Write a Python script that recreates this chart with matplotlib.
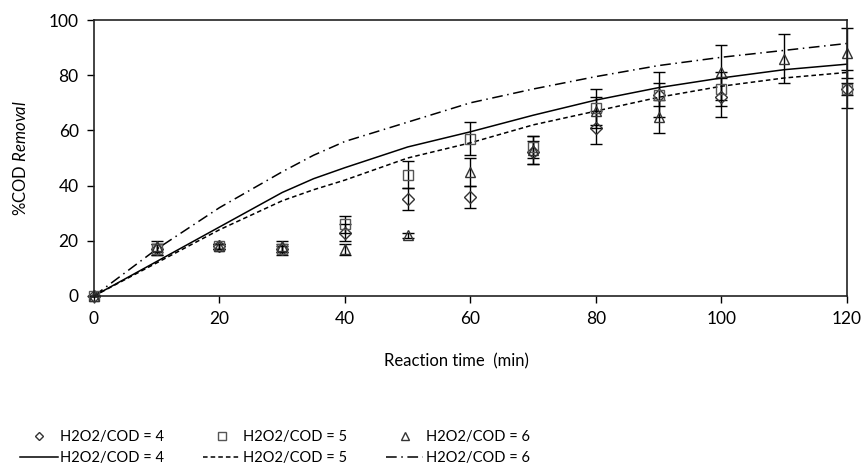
"""COD removal vs reaction time for three H2O2/COD ratios."""

import matplotlib

matplotlib.use("Agg")
import matplotlib.pyplot as plt
from matplotlib.container import ErrorbarContainer
import numpy as np

nan = np.nan

# measured points
time = [0, 10, 20, 30, 40, 50, 60, 70, 80, 90, 100, 110, 120]
cod_r4 = [0, 17, 18, 17, 23, 35, 36, 52, 61, 73, 72, nan, 75]
err_r4 = [0, 2, 1, 1, 3, 4, 4, 4, 6, 4, 7, nan, 2]
cod_r5 = [0, 17, 18, 17, 26, 44, 57, 54, 68, 73, 75, nan, 75]
err_r5 = [0, 2, 1, 2, 3, 5, 6, 4, 7, 8, 6, nan, 7]
cod_r6 = [0, 18, 18, 18, 17, 22, 45, 53, 67, 65, 81, 86, 88]
err_r6 = [0, 2, 1, 2, 2, 1, 5, 5, 5, 6, 10, 9, 9]

# model curves
model_t = [0, 10, 20, 30, 35, 40, 50, 60, 70, 80, 90, 100, 110, 120]
model_r4 = [0, 12.5, 25, 37.5, 42.5, 46.5, 54, 59.5, 65.5, 71, 75.5, 79, 82, 84]
model_r5 = [0, 12, 24, 34.5, 38.5, 42, 50, 55.5, 62, 67, 72, 76, 79, 81]
model_r6 = [0, 17, 32, 45, 51, 56, 63, 70, 75, 79.5, 83.5, 86.5, 89, 91.5]

plt.rcParams["font.family"] = ["Lato", "DejaVu Sans"]
plt.rcParams["mathtext.fontset"] = "custom"
plt.rcParams["mathtext.rm"] = "Lato"
plt.rcParams["mathtext.it"] = "Lato:italic"

fig = plt.figure(figsize=(8.66, 4.71), dpi=100)
ax = fig.add_axes([0.1085, 0.3716, 0.8695, 0.5859])

marker_kw = dict(linestyle="none", markerfacecolor="none", markeredgewidth=1.0,
                 ecolor="black", elinewidth=1.0, capsize=4, capthick=1.0, clip_on=False)
ax.errorbar(time, cod_r4, yerr=err_r4, marker="D", markersize=6, markeredgecolor="#333333",
            label="H2O2/COD = 4", **marker_kw)
ax.errorbar(time, cod_r5, yerr=err_r5, marker="s", markersize=7, markeredgecolor="#555555",
            label="H2O2/COD = 5", **marker_kw)
ax.errorbar(time, cod_r6, yerr=err_r6, marker="^", markersize=7.5, markeredgecolor="#333333",
            label="H2O2/COD = 6", **marker_kw)

ax.plot(model_t, model_r4, color="black", linewidth=1.1, linestyle="-", label="H2O2/COD = 4")
ax.plot(model_t, model_r5, color="black", linewidth=1.1, linestyle=(0, (3, 2)), label="H2O2/COD = 5")
ax.plot(model_t, model_r6, color="black", linewidth=1.1, linestyle=(0, (7, 3, 1, 3)), label="H2O2/COD = 6")

ax.set_xlim(0, 120)
ax.set_ylim(0, 100)
ax.set_xticks(range(0, 121, 20))
ax.set_yticks(range(0, 101, 20))
ax.tick_params(direction="out", length=5, width=1.0, labelsize=12.5, colors="black", pad=6)
for spine in ax.spines.values():
    spine.set_linewidth(1.2)
    spine.set_color("#222222")
ax.set_xlabel("Reaction time  (min)", fontsize=12, labelpad=19)
ax.xaxis.label.set_x(0.481)
ax.set_ylabel(r"%COD $\it{Removal}$", fontsize=12, labelpad=14)

handles, labels = ax.get_legend_handles_labels()
handles = [h[0] if isinstance(h, ErrorbarContainer) else h for h in handles]
# lines come first from get_legend_handles_labels; put markers on the top row
order = [3, 0, 4, 1, 5, 2]
fig.legend([handles[i] for i in order], [labels[i] for i in order],
           loc="lower left", bbox_to_anchor=(0.023, 0.012), ncol=3, frameon=False,
           borderpad=0, borderaxespad=0,
           fontsize=10.5, handlelength=2.6, handletextpad=0.15, columnspacing=2.65,
           labelspacing=0.5, markerscale=0.75)

fig.savefig("out.png")
